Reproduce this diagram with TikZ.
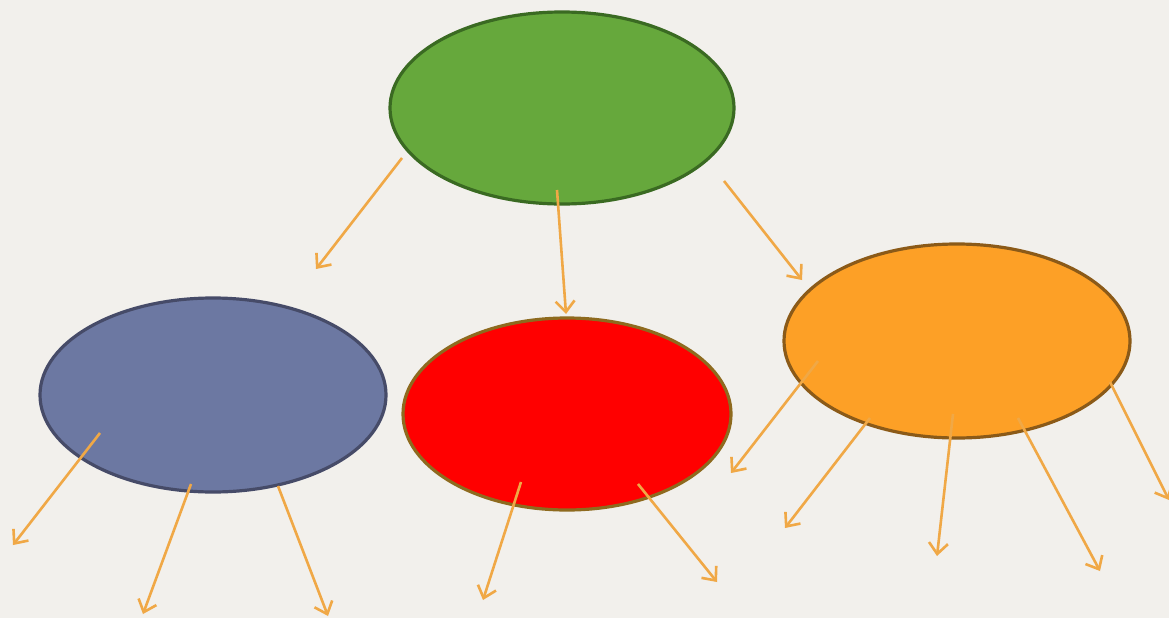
\documentclass[tikz,border=0pt]{standalone}
\usetikzlibrary{arrows.meta,shapes.geometric}
\definecolor{bgc}{HTML}{F2F0EC}
\definecolor{greenf}{HTML}{66A83C}
\definecolor{greend}{HTML}{3A6A22}
\definecolor{bluef}{HTML}{6C78A2}
\definecolor{blued}{HTML}{464B68}
\definecolor{redf}{HTML}{FF0000}
\definecolor{redd}{HTML}{8E6A1E}
\definecolor{orangef}{HTML}{FDA026}
\definecolor{oranged}{HTML}{8B5A18}
\definecolor{arrowc}{HTML}{F0A846}
\tikzset{
  blob/.style={ellipse, line width=3.2pt, inner sep=0pt},
  ptr/.style={draw=arrowc, line width=2.6pt, -{Straight Barb[length=11pt,width=19pt,line width=2.6pt]}},
}
\begin{document}
\begin{tikzpicture}[x=1pt,y=-1pt]
\fill[bgc] (0,0) rectangle (1169,618);
\useasboundingbox (0,0) rectangle (1169,618);
% ellipses
\node[blob, draw=greend, fill=greenf, minimum width=344pt, minimum height=192pt] (g) at (562,108) {};
\node[blob, draw=blued, fill=bluef, minimum width=346pt, minimum height=194pt] (b) at (213,395) {};
\node[blob, draw=redd, fill=redf, minimum width=328pt, minimum height=192pt] (r) at (567,414) {};
\node[blob, draw=oranged, fill=orangef, minimum width=346pt, minimum height=194pt] (o) at (957,341) {};
% start points
\coordinate (g1) at (402,158);
\coordinate (g2) at (557,190);
\coordinate (g3) at (724,181);
\coordinate (b1) at (100,433);
\coordinate (b2) at (191,484);
\coordinate (b3) at (278,486);
\coordinate (r1) at (521,482);
\coordinate (r2) at (638,484);
\coordinate (o1) at (818,361);
\coordinate (o2) at (870,418);
\coordinate (o3) at (953,414);
\coordinate (o4) at (1018,418);
\coordinate (o5) at (1110,382);
% end points
\coordinate (eg1) at (316,269);
\coordinate (eg2) at (566,314);
\coordinate (eg3) at (802,280);
\coordinate (eb1) at (13,545);
\coordinate (eb2) at (143,614);
\coordinate (eb3) at (328,616);
\coordinate (er1) at (483,600);
\coordinate (er2) at (717,582);
\coordinate (eo1) at (731,473);
\coordinate (eo2) at (785,528);
\coordinate (eo3) at (937,556);
\coordinate (eo4) at (1100,571);
\coordinate (eo5) at (1169,500);
% arrows
\draw[ptr] (g1) -- (eg1);
\draw[ptr] (g2) -- (eg2);
\draw[ptr] (g3) -- (eg3);
\draw[ptr] (b1) -- (eb1);
\draw[ptr] (b2) -- (eb2);
\draw[ptr] (b3) -- (eb3);
\draw[ptr] (r1) -- (er1);
\draw[ptr] (r2) -- (er2);
\draw[ptr] (o1) -- (eo1);
\draw[ptr] (o2) -- (eo2);
\draw[ptr] (o3) -- (eo3);
\draw[ptr] (o4) -- (eo4);
\draw[ptr] (o5) -- (eo5);
\end{tikzpicture}
\end{document}
